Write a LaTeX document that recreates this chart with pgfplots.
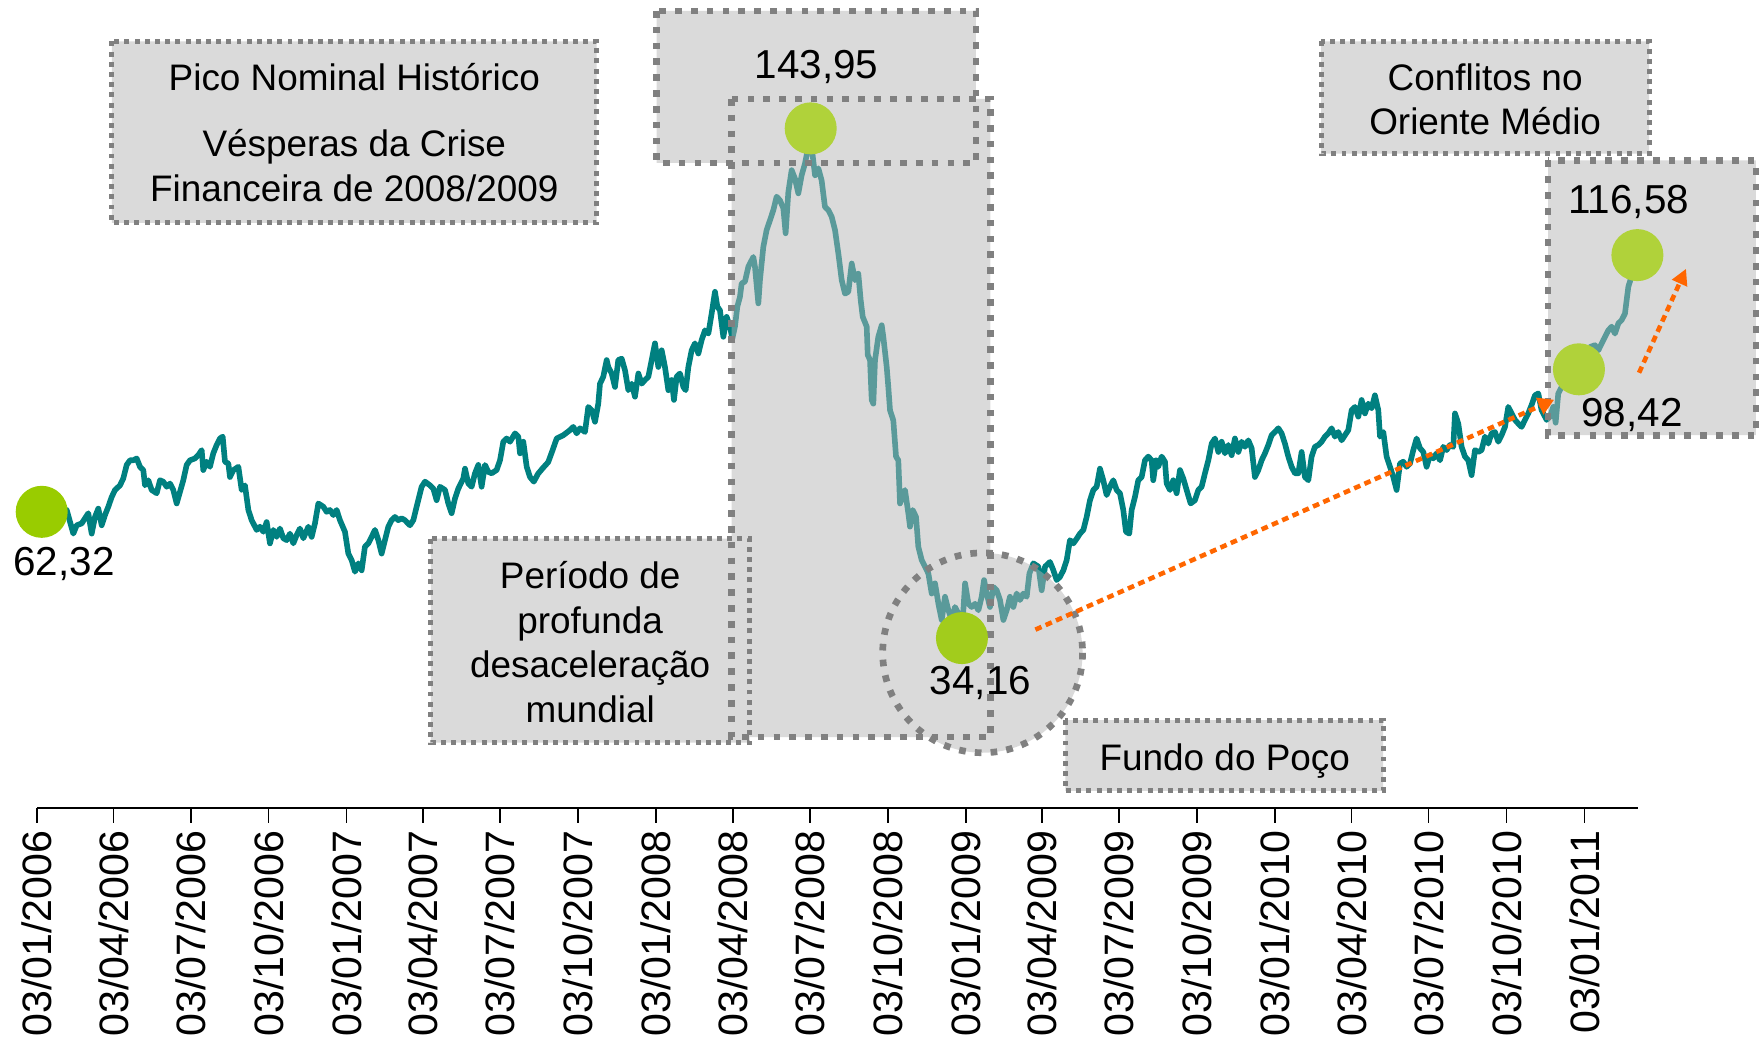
\documentclass[border=0pt]{standalone}
\usepackage{fontspec}
\setmainfont{Liberation Sans}
\usepackage{pgfplots}
\pgfplotsset{compat=1.18}
\usepackage{pgfplotstable}
\usetikzlibrary{arrows.meta}

\definecolor{lineteal}{RGB}{0,128,128}
\definecolor{dotgreen}{RGB}{153,204,0}
\definecolor{dotboxed}{RGB}{176,210,58}
\definecolor{dotcircle}{RGB}{162,204,28}
\definecolor{boxfill}{RGB}{181,181,181}
\definecolor{boxborder}{RGB}{128,128,128}
\definecolor{arroworange}{RGB}{255,102,0}

\newcommand\annot{\fontsize{10.5}{12.6}\selectfont}
\newcommand\nums{\fontsize{11.5}{13.8}\selectfont}
\newcommand\tickf{\fontsize{11.7}{14}\selectfont}

% day (counted from 03/01/2006)  value (US$/barrel)
\pgfplotstableread{
day value
5 61.3
34.7 61.7
42.5 56.6
46.5 58.4
52.4 58.8
56.3 59.9
60.2 61.0
64.2 56.6
68.1 60.2
72.0 62.0
76.0 58.4
79.9 60.6
83.8 62.4
87.8 64.5
91.7 66.0
97.6 67.0
101.5 68.5
105.5 71.4
109.4 72.4
113.3 72.4
117.3 72.8
121.2 71.0
125.1 70.3
127.1 67.0
131.0 68.1
135.0 66.0
140.9 65.3
144.8 68.1
148.7 67.8
152.7 66.7
156.6 67.4
160.5 66.0
164.5 63.1
168.4 65.6
172.3 68.1
176.3 71.4
180.2 72.4
186.1 72.8
190.0 73.5
194.0 74.6
195.9 70.3
199.9 72.1
203.8 71.0
207.7 73.9
211.7 75.7
215.6 77.1
218.8 77.5
221.5 72.1
225.5 71.7
227.4 68.8
231.4 70.3
237.3 71.0
241.2 66.0
245.1 67.0
249.1 61.7
253.0 59.5
258.9 57.4
262.8 58.1
266.8 57.0
270.7 59.1
274.6 54.5
278.6 57.4
282.5 55.9
286.4 57.7
290.4 55.6
294.3 55.2
298.2 56.6
302.2 54.5
306.1 56.3
310.0 57.7
314.0 55.6
319.9 58.1
323.8 55.9
327.7 58.8
331.7 63.1
337.6 62.4
341.5 61.3
345.4 61.7
349.4 60.6
353.3 61.7
357.2 59.5
363.1 57.0
367.1 52.3
371.0 50.9
374.9 48.4
378.9 50.2
382.8 48.7
386.7 53.8
390.7 54.5
394.6 55.9
398.5 57.4
402.5 55.2
406.4 52.3
410.3 55.2
414.3 58.1
418.2 59.5
422.1 60.2
426.1 59.5
430.0 59.9
433.9 59.5
439.8 58.4
443.8 59.5
447.7 62.4
453.6 66.7
457.6 67.8
463.5 67.0
467.4 66.3
471.3 63.8
475.3 66.7
481.2 66.0
485.1 63.1
489.0 61.0
493.0 64.2
496.9 66.3
502.8 68.5
504.8 70.6
508.7 67.4
512.6 66.7
516.6 69.6
520.5 71.4
524.4 66.7
528.4 71.4
532.3 69.9
536.2 69.6
542.1 70.3
546.1 72.4
550.0 76.4
553.9 77.1
557.9 76.4
563.8 78.2
567.7 77.5
569.7 73.9
573.6 76.4
577.6 71.0
581.5 68.8
586 67.8
591 69.5
597 70.8
603 72.0
608 74.5
613.0 77.1
620.8 77.8
628.7 78.9
632.6 79.6
636.6 78.2
640.5 79.3
646.4 78.5
650.3 83.9
654.3 83.2
658.2 80.7
662.1 84.6
664.1 88.9
668.0 90.4
672.0 94.0
673.9 92.5
677.9 91.1
681.8 88.2
685.7 94.0
689.7 94.3
693.6 91.8
697.6 87.5
701.5 88.9
705.4 86.1
709.4 91.1
713.3 88.9
717.2 89.7
721.2 90.4
725.1 94.0
729.0 97.6
733.0 92.5
736.9 96.1
740.8 92.5
744.8 87.5
748.7 89.7
751.4 85.4
754.6 90.4
758.5 91.1
762.5 88.2
765.2 87.5
768.4 92.5
772.3 96.1
776.2 97.6
780.2 95.4
784.1 98.3
788.0 100.4
792.0 99.7
795.9 104.0
799.8 108.7
802.6 105.5
805.7 104.7
809.7 99.0
813.6 103.3
817.5 101.2
820.3 98.6
823.4 101.2
826.2 105.5
829.3 107.6
831.3 110.5
835.2 110.9
839.2 114.1
843.1 115.5
845.1 116.2
847.0 114.1
851.0 106.2
852.9 111.2
856.9 118.4
860.8 122.0
864.7 124.1
868.7 126.3
872.6 129.2
876.5 128.4
880.5 126.7
883.2 121.3
886.4 130.2
890.3 134.9
894.2 133.1
898.2 129.9
902.1 133.8
906.0 136.3
909.0 139.0
912.0 143.9
914.5 139.0
917.9 133.8
921.8 135.3
925.7 132.7
929.6 127.0
933.6 126.3
937.5 124.9
941.5 122.0
945.4 117.0
949.4 111.2
953.3 108.3
957.2 108.7
961.2 114.8
965.1 111.2
969.0 112.6
971.8 106.9
974.2 103.3
978.9 101.2
980.1 95.1
982.8 94.0
984.8 85.4
986.7 84.6
988.7 94.0
992.6 99.0
996.6 101.5
998.5 99.0
1002.5 92.5
1004.4 88.2
1006.4 83.2
1010.3 81.0
1013.5 73.2
1016.2 72.4
1018.2 63.1
1022.1 65.3
1024.1 66.0
1028.1 60.9
1030.0 58.1
1033.2 61.7
1037.1 60.2
1039.8 53.8
1043.8 50.9
1047.7 49.5
1051.7 48.0
1055.6 43.7
1059.5 45.9
1063.5 41.5
1067.4 38.0
1071.3 43.0
1075.3 40.1
1079.2 38.0
1083.1 40.8
1087.1 39.4
1091.0 34.5
1095.0 45.9
1098.9 41.5
1102.8 40.8
1106.7 41.5
1110.7 40.1
1114.6 43.0
1117.4 46.6
1120.5 43.7
1124.4 40.8
1128.4 45.1
1132.3 44.4
1136.2 42.3
1140.2 38.0
1144.1 40.1
1148.0 43.0
1152.0 40.8
1155.9 43.7
1159.8 42.3
1163.8 43.7
1167.7 43.0
1170.9 48.0
1175.6 50.2
1181.5 49.5
1185.4 44.4
1189.4 49.5
1195.2 50.5
1199.2 48.7
1203.1 46.6
1207.0 47.3
1211.0 48.7
1214.9 50.9
1218.8 55.2
1222.8 54.5
1226.7 55.5
1230.6 56.6
1234.6 57.4
1238.5 60.2
1242.4 63.8
1246.4 66.0
1250.3 66.7
1254.2 70.6
1258.1 68.1
1262.1 64.9
1266.0 66.7
1269.9 68.1
1273.9 66.0
1277.8 65.3
1281.7 61.7
1284.9 57.0
1288.8 56.6
1291.6 61.7
1295.5 64.5
1299.4 68.1
1303.4 68.8
1307.3 72.4
1311.2 73.2
1315.2 72.4
1317.1 68.1
1320.3 72.4
1323.0 71.0
1327.0 73.2
1330.9 72.1
1332.9 67.4
1336.8 66.0
1340.7 68.1
1344.7 65.3
1348.6 70.3
1352.5 68.5
1356.5 66.0
1361.2 63.1
1366.3 63.8
1370.3 66.0
1374.2 66.7
1378.1 69.6
1382.1 72.4
1386.0 76.0
1389.9 77.1
1393.9 74.2
1397.8 76.4
1401.7 73.9
1405.7 75.7
1409.6 73.5
1413.5 77.1
1417.5 74.2
1421.4 76.4
1425.3 75.3
1429.3 76.7
1433.2 75.0
1437.1 68.8
1441.1 70.3
1445.0 72.4
1448.9 73.9
1452.9 75.7
1456.8 77.8
1460.7 78.5
1464.7 79.3
1468.6 78.2
1472.5 76.0
1476.5 73.2
1480.4 71.0
1484.3 69.6
1488.3 69.6
1492.2 74.2
1496.1 68.8
1500.1 68.1
1504.0 73.2
1507.9 75.3
1511.9 75.7
1515.8 76.4
1519.7 77.5
1523.7 78.2
1527.6 79.3
1531.5 77.5
1535.5 78.5
1539.4 76.7
1543.3 77.8
1547.3 78.9
1551.2 83.2
1555.1 83.9
1559.1 81.8
1563.0 85.4
1566.9 82.5
1570.9 84.6
1574.8 83.6
1578.7 86.4
1582.7 83.2
1584.7 77.5
1588.6 78.5
1592.5 73.2
1596.5 71.0
1600.4 68.8
1604.3 66.0
1608.3 71.7
1612.2 72.1
1616.1 71.0
1620.1 71.7
1624.0 74.6
1627.9 77.1
1631.9 75.0
1635.8 74.2
1639.7 71.0
1643.7 73.5
1647.6 72.8
1651.5 73.9
1655.5 72.4
1659.4 75.3
1663.3 74.6
1667.3 75.7
1671.2 75.3
1673.2 82.5
1677.1 80.3
1681.0 75.3
1685.0 73.2
1688.9 72.4
1692.8 69.2
1696.8 74.6
1700.7 74.2
1704.6 74.6
1708.6 77.5
1712.5 76.0
1716.4 78.2
1720.4 78.5
1724.3 76.4
1728.2 77.8
1732.2 79.6
1736.1 83.9
1740.0 82.5
1744.0 81.1
1747.9 80.3
1751.8 79.6
1755.8 81.1
1759.7 82.5
1763.6 84.3
1767.6 86.4
1771.5 86.8
1775.4 83.2
1781.4 81.1
1785.3 81.8
1789.2 83.9
1792.0 80.5
1795.1 86.8
1800.0 88.5
1808.0 90.0
1818.0 92.0
1826.0 94.5
1832.5 96.8
1838.4 97.2
1842.4 96.1
1848.3 98.3
1854.2 100.4
1858.1 101.2
1862.0 99.7
1866.0 101.9
1869.9 102.6
1873.8 104.0
1875.8 106.9
1877.8 109.8
1879.7 110.9
1888.4 116.6
}\brent

\pgfplotsset{
  geom/.style={
    at={(0.373cm,-8.08cm)}, anchor=south west,
    scale only axis, width=16.007cm, height=8.08cm,
    xmin=0, xmax=1889.2, ymin=-2.5, ymax=171.56,
    clip=false,
  },
}

\begin{document}
\begin{tikzpicture}
\path[use as bounding box] (0,0) rectangle (17.6cm,-10.46cm);

\begin{axis}[
  geom,
  axis y line=none,
  axis x line*=bottom,
  axis line style={-, black, line width=0.5pt},
  ytick=\empty,
  xtick={0,90,181,273,365,455,546,638,730,821,912,1004,1096,1186,1277,1369,1461,1551,1642,1734,1826},
  xticklabels={03/01/2006,03/04/2006,03/07/2006,03/10/2006,03/01/2007,03/04/2007,03/07/2007,03/10/2007,03/01/2008,03/04/2008,03/07/2008,03/10/2008,03/01/2009,03/04/2009,03/07/2009,03/10/2009,03/01/2010,03/04/2010,03/07/2010,03/10/2010,03/01/2011},
  xtick pos=bottom,
  tick align=outside,
  major tick length=0.15cm,
  xtick style={black, line width=0.5pt},
  xticklabel shift=2pt,
  xticklabel style={rotate=90, anchor=east, font=\tickf, inner sep=0pt, text=black},
]
\addplot[lineteal, line width=1.6pt, line join=round, no marks] table[x=day, y=value] {\brent};
\end{axis}

\begin{scope}[x=0.01cm, y=-0.01cm]
% translucent shaded areas (one path, so overlaps are filled once)
\fill[boxfill, fill opacity=0.5]
  (112,41.5) -- (597,41.5) -- (597,223) -- (112,223) -- cycle
  (657,11) -- (976.5,11) -- (976.5,163) -- (657,163) -- cycle
  (732,99) -- (991,99) -- (991,737.5) -- (732,737.5) -- cycle
  (431,539) -- (750,539) -- (750,743) -- (431,743) -- cycle
  (1083.2,653.2) arc[start angle=0, end angle=360, radius=100]
  (1066,720.6) -- (1384,720.6) -- (1384,791.3) -- (1066,791.3) -- cycle
  (1322,41.5) -- (1650,41.5) -- (1650,153.8) -- (1322,153.8) -- cycle
  (1549,160.5) -- (1757,160.5) -- (1757,435.5) -- (1549,435.5) -- cycle;

% dotted borders
\tikzset{smallb/.style={draw=boxborder, line width=1.45pt, dash pattern=on 1.4pt off 1.5pt},
         bigb/.style={draw=boxborder, line width=1.9pt, dash pattern=on 1.9pt off 2.6pt}}
\draw[smallb] (112,41.5) rectangle (597,223);
\draw[bigb] (657,11) rectangle (976.5,163);
\draw[bigb] (732,99) rectangle (991,737.5);
\draw[smallb] (431,539) rectangle (750,743);
\draw[bigb] (983.2,653.2) circle[radius=100];
\draw[smallb] (1066,720.6) rectangle (1384,791.3);
\draw[smallb] (1322,41.5) rectangle (1650,153.8);
\draw[bigb] (1549,160.5) rectangle (1757,435.5);
\end{scope}

% highlighted points
\begin{axis}[geom, hide axis]
\addplot[only marks, mark=*, mark size=7.2pt, color=dotgreen, mark options={draw=dotgreen, fill=dotgreen}]
  coordinates {(5.2,61.3)};
\addplot[only marks, mark=*, mark size=7.2pt, color=dotcircle, mark options={draw=dotcircle, fill=dotcircle}]
  coordinates {(1091.3,34.1)};
\addplot[only marks, mark=*, mark size=7.2pt, color=dotboxed, mark options={draw=dotboxed, fill=dotboxed}]
  coordinates {(912.8,143.9) (1819.5,92.0) (1888.5,116.6)};
\end{axis}

\begin{scope}[x=0.01cm, y=-0.01cm]
% orange trend arrows
\draw[arroworange, line width=1.3pt, dash pattern=on 1.9pt off 1.3pt, -{Triangle[width=5pt,length=4.5pt]}]
  (1036,630) -- (1555,400);
\draw[arroworange, line width=1.3pt, dash pattern=on 1.9pt off 1.3pt, -{Triangle[width=4.5pt,length=4.5pt]}]
  (1640,373) -- (1687,269);

% texts
\node[font=\annot, anchor=base] at (354.5,90.4) {Pico Nominal Histórico};
\node[font=\annot, anchor=base] at (354.5,156.7) {Vésperas da Crise};
\node[font=\annot, anchor=base] at (354.5,201.6) {Financeira de 2008/2009};
\node[font=\annot, anchor=base] at (590.5,588.8) {Período de};
\node[font=\annot, anchor=base] at (590.5,633.4) {profunda};
\node[font=\annot, anchor=base] at (590.5,678.0) {desaceleração};
\node[font=\annot, anchor=base] at (590.5,722.6) {mundial};
\node[font=\annot, anchor=base] at (1225.5,770.6) {Fundo do Poço};
\node[font=\annot, anchor=base] at (1486,90.4) {Conflitos no};
\node[font=\annot, anchor=base] at (1486,134.2) {Oriente Médio};
\node[font=\nums, anchor=base] at (817,78.5) {143,95};
\node[font=\nums, anchor=base] at (64,575.5) {62,32};
\node[font=\nums, anchor=base] at (981,694.5) {34,16};
\node[font=\nums, anchor=base] at (1629.7,213.2) {116,58};
\node[font=\nums, anchor=base] at (1633,426.5) {98,42};
\end{scope}
\end{tikzpicture}
\end{document}
